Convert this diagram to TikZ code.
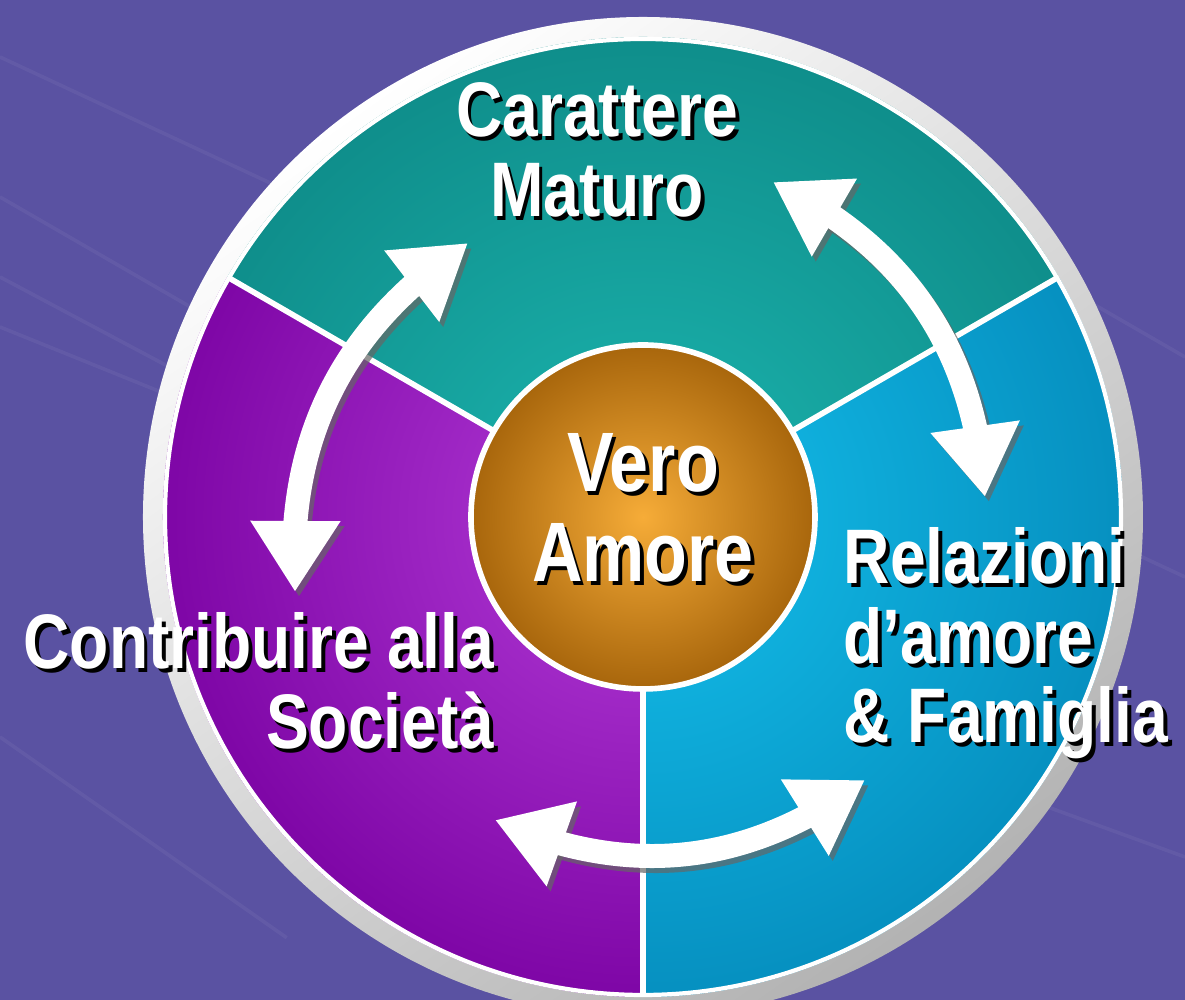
\documentclass[tikz,border=0pt]{standalone}
\usepackage{fontspec}
\usetikzlibrary{arrows.meta,bending}
\newfontfamily\labfont[FakeStretch=0.83]{Liberation Sans Bold}
\definecolor{bgpurple}{HTML}{5A52A2}
\definecolor{tealin}{HTML}{1CB6B0}
\definecolor{tealout}{HTML}{0F8E8B}
\definecolor{bluein}{HTML}{14C0EC}
\definecolor{blueout}{HTML}{0690C0}
\definecolor{purpin}{HTML}{B43CD8}
\definecolor{purpout}{HTML}{7E06A6}
\definecolor{goldin}{HTML}{F6AC38}
\definecolor{goldout}{HTML}{A8660C}
% white text with a black drop shadow
\newcommand{\shd}[1]{\rlap{\kern1.1pt\raisebox{-1.1pt}{\color{black}#1}}#1}
\tikzset{
  lbl/.style={text=white, inner sep=0pt, font=\labfont\fontsize{22}{22.6}\selectfont},
  twoway/.style={line width=0.24cm,
    {Triangle[length=0.71cm,width=0.85cm]}-{Triangle[length=0.71cm,width=0.85cm]}}
}
\begin{document}
\begin{tikzpicture}
  \fill[bgpurple] (-6.43,-4.83) rectangle (5.42,5.17);
  \useasboundingbox (-6.43,-4.83) rectangle (5.42,5.17);
  % streaks
  \foreach \y/\a in {4.6/-25, 3.2/-30, 1.9/-22, -2.2/-35, 2.4/-28}
    \draw[white, opacity=0.05, line width=1pt] (-6.43,\y) -- ++(\a:3.5);
  \foreach \y/\a in {1.6/-30, -0.6/-25, -3.4/-20}
    \draw[white, opacity=0.05, line width=1pt] (5.42,\y) -- ++(180+\a:1.6);
  % rim
  \shade[top color=white, bottom color=gray!60, shading angle=35] (0,0) circle (5.0);
  % sectors
  \begin{scope}
    \clip (0,0) -- (30:4.8) arc[start angle=30, end angle=150, radius=4.8] -- cycle;
    \shade[inner color=tealin, outer color=tealout] (0,0) circle (4.8);
  \end{scope}
  \begin{scope}
    \clip (0,0) -- (-90:4.8) arc[start angle=-90, end angle=30, radius=4.8] -- cycle;
    \shade[inner color=bluein, outer color=blueout] (0,0) circle (4.8);
  \end{scope}
  \begin{scope}
    \clip (0,0) -- (150:4.8) arc[start angle=150, end angle=270, radius=4.8] -- cycle;
    \shade[inner color=purpin, outer color=purpout] (0,0) circle (4.8);
  \end{scope}
  \draw[white, line width=1.2pt] (0,0) circle (4.78);
  \foreach \a in {30,150,270}
    \draw[white, line width=1.6pt] (\a:1.7) -- (\a:4.78);
  % centre
  \node[circle, minimum size=3.44cm, draw=white, line width=1.6pt,
        inner color=goldin, outer color=goldout, lbl,
        font=\labfont\fontsize{24}{25.6}\selectfont, align=center] (core) at (0,0)
        {\shd{Vero}\\\shd{Amore}\\[-20pt]};
  % arrows
  \coordinate (ltop) at (-1.75,2.74);
  \coordinate (lbot) at (-3.48,-0.75);
  \coordinate (rbot) at (3.42,0.20);
  \coordinate (rtop) at (1.30,3.35);
  \coordinate (bleft) at (-1.48,-3.03);
  \coordinate (bright) at (2.22,-2.63);
  \foreach \s/\e in {ltop/lbot, rbot/rtop, bleft/bright}{
    \draw[twoway, black!60, opacity=0.7, transform canvas={shift={(0.04,-0.05)}}]
      (\s) to[bend right=30] (\e);
    \draw[twoway, white] (\s) to[bend right=30] (\e);
  }
  % labels
  \node[lbl, align=center] (car) at (-0.46,3.65) {\shd{Carattere}\\\shd{Maturo}};
  \node[lbl, align=left, anchor=north west] (rel) at (2.0,-0.1)
    {\shd{Relazioni}\\\shd{d’amore}\\\shd{\& Famiglia}};
  \node[lbl, align=right, anchor=north east] (soc) at (-1.48,-0.95)
    {\shd{Contribuire alla}\\\shd{Società}};
\end{tikzpicture}
\end{document}
